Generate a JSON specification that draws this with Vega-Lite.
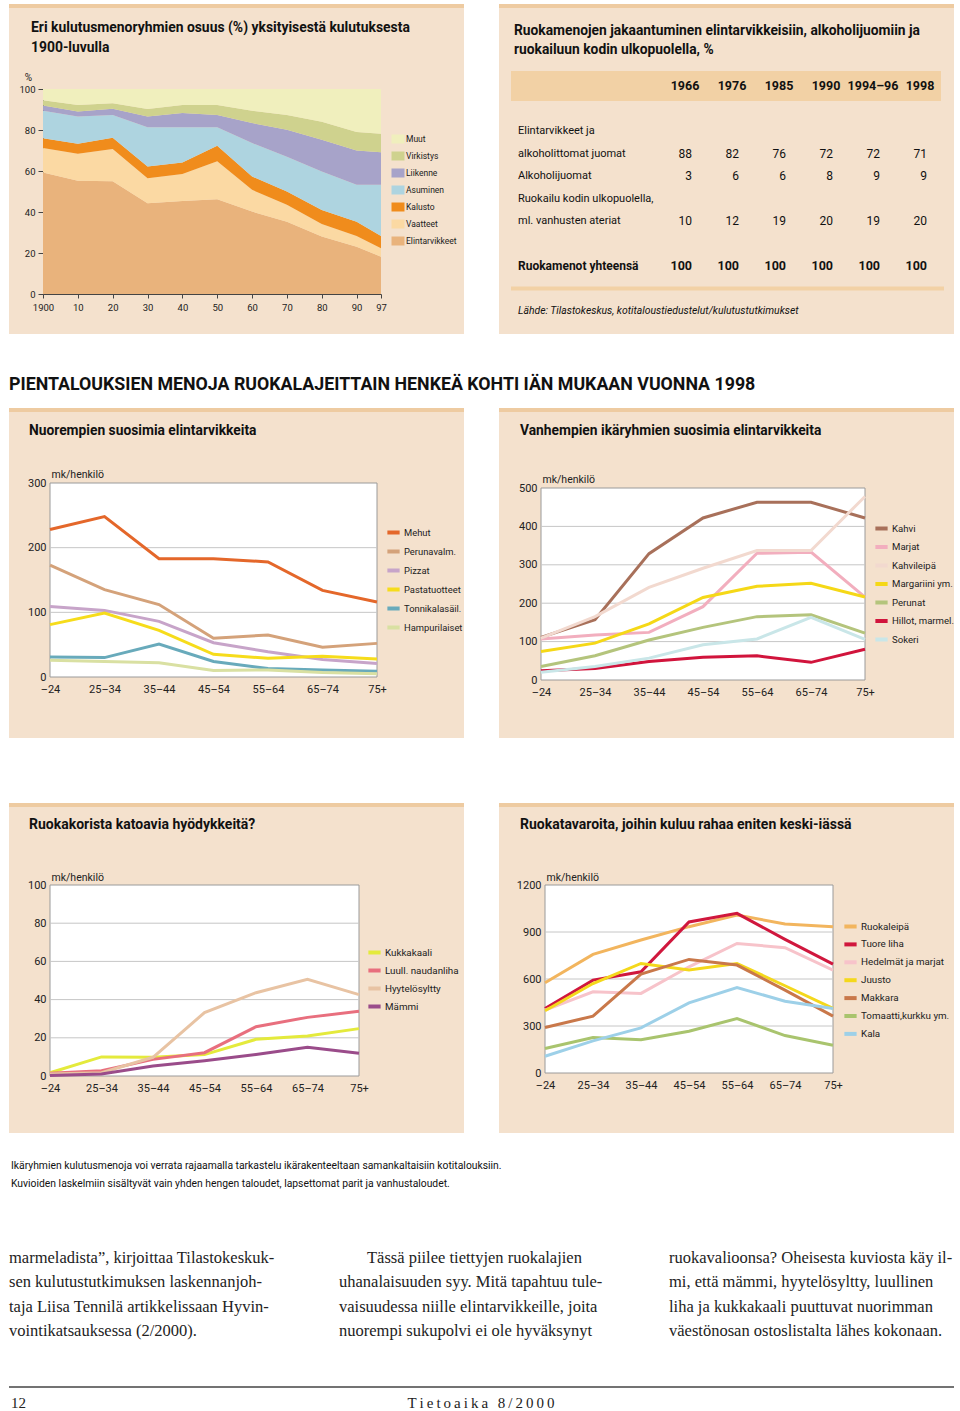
{
"$schema": "https://vega.github.io/schema/vega-lite/v6.json",
"background": "white",
"padding": {"left": 8, "top": 4, "right": 7, "bottom": 0},
"spacing": 0,
"resolve": {"scale": {"color": "independent"}, "legend": {"color": "independent"}},
"config": {
  "view": {"stroke": null},
  "font": "Roboto, 'Liberation Sans', sans-serif",
  "title": {"font": "Roboto, 'Liberation Sans', sans-serif", "fontWeight": "bold", "color": "#111", "anchor": "start", "frame": "group"},
  "axis": {"labelFont": "Roboto, 'Liberation Sans', sans-serif", "titleFont": "Roboto, 'Liberation Sans', sans-serif", "labelColor": "#222", "titleColor": "#222", "titleFontWeight": "normal"},
  "legend": {"labelFont": "Roboto, 'Liberation Sans', sans-serif", "labelColor": "#222", "padding": 0},
  "text": {"font": "Roboto, 'Liberation Sans', sans-serif", "color": "#111"}
},
"datasets": {
  "area": [
    {"v":1900,"r":"Elintarvikkeet","o":1,"p":59.3},{"v":1900,"r":"Vaatteet","o":2,"p":11.9},{"v":1900,"r":"Kalusto","o":3,"p":4.8},{"v":1900,"r":"Asuminen","o":4,"p":13.4},{"v":1900,"r":"Liikenne","o":5,"p":2.5},{"v":1900,"r":"Virkistys","o":6,"p":2.6},{"v":1900,"r":"Muut","o":7,"p":5.5},
    {"v":1910,"r":"Elintarvikkeet","o":1,"p":55.2},{"v":1910,"r":"Vaatteet","o":2,"p":13.2},{"v":1910,"r":"Kalusto","o":3,"p":4.9},{"v":1910,"r":"Asuminen","o":4,"p":13.3},{"v":1910,"r":"Liikenne","o":5,"p":2.4},{"v":1910,"r":"Virkistys","o":6,"p":3.2},{"v":1910,"r":"Muut","o":7,"p":7.8},
    {"v":1920,"r":"Elintarvikkeet","o":1,"p":55.0},{"v":1920,"r":"Vaatteet","o":2,"p":15.7},{"v":1920,"r":"Kalusto","o":3,"p":5.5},{"v":1920,"r":"Asuminen","o":4,"p":11.1},{"v":1920,"r":"Liikenne","o":5,"p":3.1},{"v":1920,"r":"Virkistys","o":6,"p":2.6},{"v":1920,"r":"Muut","o":7,"p":7.0},
    {"v":1930,"r":"Elintarvikkeet","o":1,"p":44.3},{"v":1930,"r":"Vaatteet","o":2,"p":12.2},{"v":1930,"r":"Kalusto","o":3,"p":5.7},{"v":1930,"r":"Asuminen","o":4,"p":19.2},{"v":1930,"r":"Liikenne","o":5,"p":5.2},{"v":1930,"r":"Virkistys","o":6,"p":3.6},{"v":1930,"r":"Muut","o":7,"p":9.8},
    {"v":1940,"r":"Elintarvikkeet","o":1,"p":45.4},{"v":1940,"r":"Vaatteet","o":2,"p":13.1},{"v":1940,"r":"Kalusto","o":3,"p":5.7},{"v":1940,"r":"Asuminen","o":4,"p":17.2},{"v":1940,"r":"Liikenne","o":5,"p":6.9},{"v":1940,"r":"Virkistys","o":6,"p":3.9},{"v":1940,"r":"Muut","o":7,"p":7.8},
    {"v":1950,"r":"Elintarvikkeet","o":1,"p":46.2},{"v":1950,"r":"Vaatteet","o":2,"p":18.5},{"v":1950,"r":"Kalusto","o":3,"p":7.6},{"v":1950,"r":"Asuminen","o":4,"p":9.0},{"v":1950,"r":"Liikenne","o":5,"p":6.0},{"v":1950,"r":"Virkistys","o":6,"p":4.9},{"v":1950,"r":"Muut","o":7,"p":7.8},
    {"v":1960,"r":"Elintarvikkeet","o":1,"p":40.2},{"v":1960,"r":"Vaatteet","o":2,"p":10.6},{"v":1960,"r":"Kalusto","o":3,"p":6.5},{"v":1960,"r":"Asuminen","o":4,"p":16.3},{"v":1960,"r":"Liikenne","o":5,"p":9.8},{"v":1960,"r":"Virkistys","o":6,"p":6.0},{"v":1960,"r":"Muut","o":7,"p":10.6},
    {"v":1970,"r":"Elintarvikkeet","o":1,"p":35.3},{"v":1970,"r":"Vaatteet","o":2,"p":8.2},{"v":1970,"r":"Kalusto","o":3,"p":6.5},{"v":1970,"r":"Asuminen","o":4,"p":17.0},{"v":1970,"r":"Liikenne","o":5,"p":13.1},{"v":1970,"r":"Virkistys","o":6,"p":7.2},{"v":1970,"r":"Muut","o":7,"p":12.7},
    {"v":1980,"r":"Elintarvikkeet","o":1,"p":28.0},{"v":1980,"r":"Vaatteet","o":2,"p":6.2},{"v":1980,"r":"Kalusto","o":3,"p":6.8},{"v":1980,"r":"Asuminen","o":4,"p":18.8},{"v":1980,"r":"Liikenne","o":5,"p":15.4},{"v":1980,"r":"Virkistys","o":6,"p":8.8},{"v":1980,"r":"Muut","o":7,"p":16.0},
    {"v":1990,"r":"Elintarvikkeet","o":1,"p":23.1},{"v":1990,"r":"Vaatteet","o":2,"p":5.2},{"v":1990,"r":"Kalusto","o":3,"p":7.0},{"v":1990,"r":"Asuminen","o":4,"p":18.0},{"v":1990,"r":"Liikenne","o":5,"p":16.7},{"v":1990,"r":"Virkistys","o":6,"p":9.0},{"v":1990,"r":"Muut","o":7,"p":21.0},
    {"v":1997,"r":"Elintarvikkeet","o":1,"p":18.2},{"v":1997,"r":"Vaatteet","o":2,"p":4.1},{"v":1997,"r":"Kalusto","o":3,"p":6.0},{"v":1997,"r":"Asuminen","o":4,"p":25.0},{"v":1997,"r":"Liikenne","o":5,"p":15.9},{"v":1997,"r":"Virkistys","o":6,"p":9.0},{"v":1997,"r":"Muut","o":7,"p":21.8}
  ],
  "vuodet": [{"vuosi":"1966"},{"vuosi":"1976"},{"vuosi":"1985"},{"vuosi":"1990"},{"vuosi":"1994–96"},{"vuosi":"1998"}],
  "rivit": [{"r":"r1","t":"Elintarvikkeet ja"},{"r":"r2","t":"alkoholittomat juomat"},{"r":"r3","t":"Alkoholijuomat"},{"r":"r4","t":"Ruokailu kodin ulkopuolella,"},{"r":"r4b","t":"ml. vanhusten ateriat"}],
  "luvut": [
    {"vuosi":"1966","r":"r2","a":88},{"vuosi":"1976","r":"r2","a":82},{"vuosi":"1985","r":"r2","a":76},{"vuosi":"1990","r":"r2","a":72},{"vuosi":"1994–96","r":"r2","a":72},{"vuosi":"1998","r":"r2","a":71},
    {"vuosi":"1966","r":"r3","a":3},{"vuosi":"1976","r":"r3","a":6},{"vuosi":"1985","r":"r3","a":6},{"vuosi":"1990","r":"r3","a":8},{"vuosi":"1994–96","r":"r3","a":9},{"vuosi":"1998","r":"r3","a":9},
    {"vuosi":"1966","r":"r4b","a":10},{"vuosi":"1976","r":"r4b","a":12},{"vuosi":"1985","r":"r4b","a":19},{"vuosi":"1990","r":"r4b","a":20},{"vuosi":"1994–96","r":"r4b","a":19},{"vuosi":"1998","r":"r4b","a":20}
  ],
  "yhteensa": [{"vuosi":"1966","a":100},{"vuosi":"1976","a":100},{"vuosi":"1985","a":100},{"vuosi":"1990","a":100},{"vuosi":"1994–96","a":100},{"vuosi":"1998","a":100}],
  "nuoret": [
    {"s":"Mehut","ika":"–24","v":228},{"s":"Mehut","ika":"25–34","v":248},{"s":"Mehut","ika":"35–44","v":183},{"s":"Mehut","ika":"45–54","v":183},{"s":"Mehut","ika":"55–64","v":178},{"s":"Mehut","ika":"65–74","v":134},{"s":"Mehut","ika":"75+","v":116},
    {"s":"Perunavalm.","ika":"–24","v":173},{"s":"Perunavalm.","ika":"25–34","v":135},{"s":"Perunavalm.","ika":"35–44","v":112},{"s":"Perunavalm.","ika":"45–54","v":60},{"s":"Perunavalm.","ika":"55–64","v":65},{"s":"Perunavalm.","ika":"65–74","v":46},{"s":"Perunavalm.","ika":"75+","v":52},
    {"s":"Pizzat","ika":"–24","v":109},{"s":"Pizzat","ika":"25–34","v":103},{"s":"Pizzat","ika":"35–44","v":86},{"s":"Pizzat","ika":"45–54","v":53},{"s":"Pizzat","ika":"55–64","v":39},{"s":"Pizzat","ika":"65–74","v":27},{"s":"Pizzat","ika":"75+","v":21},
    {"s":"Pastatuotteet","ika":"–24","v":81},{"s":"Pastatuotteet","ika":"25–34","v":99},{"s":"Pastatuotteet","ika":"35–44","v":72},{"s":"Pastatuotteet","ika":"45–54","v":35},{"s":"Pastatuotteet","ika":"55–64","v":29},{"s":"Pastatuotteet","ika":"65–74","v":32},{"s":"Pastatuotteet","ika":"75+","v":28},
    {"s":"Tonnikalasäil.","ika":"–24","v":31},{"s":"Tonnikalasäil.","ika":"25–34","v":30},{"s":"Tonnikalasäil.","ika":"35–44","v":51},{"s":"Tonnikalasäil.","ika":"45–54","v":24},{"s":"Tonnikalasäil.","ika":"55–64","v":13},{"s":"Tonnikalasäil.","ika":"65–74","v":11},{"s":"Tonnikalasäil.","ika":"75+","v":9},
    {"s":"Hampurilaiset","ika":"–24","v":26},{"s":"Hampurilaiset","ika":"25–34","v":24},{"s":"Hampurilaiset","ika":"35–44","v":22},{"s":"Hampurilaiset","ika":"45–54","v":10},{"s":"Hampurilaiset","ika":"55–64","v":11},{"s":"Hampurilaiset","ika":"65–74","v":7},{"s":"Hampurilaiset","ika":"75+","v":5}
  ],
  "vanhat": [
    {"s":"Kahvi","ika":"–24","v":111},{"s":"Kahvi","ika":"25–34","v":157},{"s":"Kahvi","ika":"35–44","v":329},{"s":"Kahvi","ika":"45–54","v":422},{"s":"Kahvi","ika":"55–64","v":463},{"s":"Kahvi","ika":"65–74","v":463},{"s":"Kahvi","ika":"75+","v":422},
    {"s":"Marjat","ika":"–24","v":107},{"s":"Marjat","ika":"25–34","v":117},{"s":"Marjat","ika":"35–44","v":124},{"s":"Marjat","ika":"45–54","v":191},{"s":"Marjat","ika":"55–64","v":330},{"s":"Marjat","ika":"65–74","v":333},{"s":"Marjat","ika":"75+","v":216},
    {"s":"Kahvileipä","ika":"–24","v":109},{"s":"Kahvileipä","ika":"25–34","v":165},{"s":"Kahvileipä","ika":"35–44","v":241},{"s":"Kahvileipä","ika":"45–54","v":291},{"s":"Kahvileipä","ika":"55–64","v":337},{"s":"Kahvileipä","ika":"65–74","v":337},{"s":"Kahvileipä","ika":"75+","v":478},
    {"s":"Margariini ym.","ika":"–24","v":74},{"s":"Margariini ym.","ika":"25–34","v":96},{"s":"Margariini ym.","ika":"35–44","v":146},{"s":"Margariini ym.","ika":"45–54","v":215},{"s":"Margariini ym.","ika":"55–64","v":244},{"s":"Margariini ym.","ika":"65–74","v":252},{"s":"Margariini ym.","ika":"75+","v":216},
    {"s":"Perunat","ika":"–24","v":35},{"s":"Perunat","ika":"25–34","v":63},{"s":"Perunat","ika":"35–44","v":104},{"s":"Perunat","ika":"45–54","v":137},{"s":"Perunat","ika":"55–64","v":165},{"s":"Perunat","ika":"65–74","v":170},{"s":"Perunat","ika":"75+","v":122},
    {"s":"Hillot, marmel.","ika":"–24","v":24},{"s":"Hillot, marmel.","ika":"25–34","v":30},{"s":"Hillot, marmel.","ika":"35–44","v":48},{"s":"Hillot, marmel.","ika":"45–54","v":59},{"s":"Hillot, marmel.","ika":"55–64","v":63},{"s":"Hillot, marmel.","ika":"65–74","v":46},{"s":"Hillot, marmel.","ika":"75+","v":80},
    {"s":"Sokeri","ika":"–24","v":20},{"s":"Sokeri","ika":"25–34","v":35},{"s":"Sokeri","ika":"35–44","v":57},{"s":"Sokeri","ika":"45–54","v":92},{"s":"Sokeri","ika":"55–64","v":107},{"s":"Sokeri","ika":"65–74","v":163},{"s":"Sokeri","ika":"75+","v":106}
  ],
  "katoavat": [
    {"s":"Kukkakaali","ika":"–24","v":1.7},{"s":"Kukkakaali","ika":"25–34","v":10},{"s":"Kukkakaali","ika":"35–44","v":9.8},{"s":"Kukkakaali","ika":"45–54","v":11.2},{"s":"Kukkakaali","ika":"55–64","v":19.2},{"s":"Kukkakaali","ika":"65–74","v":21},{"s":"Kukkakaali","ika":"75+","v":24.8},
    {"s":"Luull. naudanliha","ika":"–24","v":1.4},{"s":"Luull. naudanliha","ika":"25–34","v":2.8},{"s":"Luull. naudanliha","ika":"35–44","v":8.7},{"s":"Luull. naudanliha","ika":"45–54","v":12.2},{"s":"Luull. naudanliha","ika":"55–64","v":25.8},{"s":"Luull. naudanliha","ika":"65–74","v":30.7},{"s":"Luull. naudanliha","ika":"75+","v":33.9},
    {"s":"Hyytelösyltty","ika":"–24","v":1},{"s":"Hyytelösyltty","ika":"25–34","v":1.7},{"s":"Hyytelösyltty","ika":"35–44","v":9.8},{"s":"Hyytelösyltty","ika":"45–54","v":33.2},{"s":"Hyytelösyltty","ika":"55–64","v":43.6},{"s":"Hyytelösyltty","ika":"65–74","v":50.6},{"s":"Hyytelösyltty","ika":"75+","v":42.6},
    {"s":"Mämmi","ika":"–24","v":0.3},{"s":"Mämmi","ika":"25–34","v":1},{"s":"Mämmi","ika":"35–44","v":5.2},{"s":"Mämmi","ika":"45–54","v":8},{"s":"Mämmi","ika":"55–64","v":11.2},{"s":"Mämmi","ika":"65–74","v":15},{"s":"Mämmi","ika":"75+","v":11.9}
  ],
  "keski": [
    {"s":"Ruokaleipä","ika":"–24","v":576},{"s":"Ruokaleipä","ika":"25–34","v":757},{"s":"Ruokaleipä","ika":"35–44","v":849},{"s":"Ruokaleipä","ika":"45–54","v":934},{"s":"Ruokaleipä","ika":"55–64","v":1009},{"s":"Ruokaleipä","ika":"65–74","v":951},{"s":"Ruokaleipä","ika":"75+","v":934},
    {"s":"Tuore liha","ika":"–24","v":412},{"s":"Tuore liha","ika":"25–34","v":593},{"s":"Tuore liha","ika":"35–44","v":646},{"s":"Tuore liha","ika":"45–54","v":964},{"s":"Tuore liha","ika":"55–64","v":1019},{"s":"Tuore liha","ika":"65–74","v":853},{"s":"Tuore liha","ika":"75+","v":695},
    {"s":"Hedelmät ja marjat","ika":"–24","v":401},{"s":"Hedelmät ja marjat","ika":"25–34","v":518},{"s":"Hedelmät ja marjat","ika":"35–44","v":508},{"s":"Hedelmät ja marjat","ika":"45–54","v":678},{"s":"Hedelmät ja marjat","ika":"55–64","v":827},{"s":"Hedelmät ja marjat","ika":"65–74","v":800},{"s":"Hedelmät ja marjat","ika":"75+","v":657},
    {"s":"Juusto","ika":"–24","v":397},{"s":"Juusto","ika":"25–34","v":571},{"s":"Juusto","ika":"35–44","v":699},{"s":"Juusto","ika":"45–54","v":657},{"s":"Juusto","ika":"55–64","v":699},{"s":"Juusto","ika":"65–74","v":557},{"s":"Juusto","ika":"75+","v":412},
    {"s":"Makkara","ika":"–24","v":290},{"s":"Makkara","ika":"25–34","v":363},{"s":"Makkara","ika":"35–44","v":631},{"s":"Makkara","ika":"45–54","v":725},{"s":"Makkara","ika":"55–64","v":689},{"s":"Makkara","ika":"65–74","v":529},{"s":"Makkara","ika":"75+","v":363},
    {"s":"Tomaatti,kurkku ym.","ika":"–24","v":156},{"s":"Tomaatti,kurkku ym.","ika":"25–34","v":226},{"s":"Tomaatti,kurkku ym.","ika":"35–44","v":213},{"s":"Tomaatti,kurkku ym.","ika":"45–54","v":267},{"s":"Tomaatti,kurkku ym.","ika":"55–64","v":348},{"s":"Tomaatti,kurkku ym.","ika":"65–74","v":239},{"s":"Tomaatti,kurkku ym.","ika":"75+","v":177},
    {"s":"Kala","ika":"–24","v":107},{"s":"Kala","ika":"25–34","v":205},{"s":"Kala","ika":"35–44","v":288},{"s":"Kala","ika":"45–54","v":448},{"s":"Kala","ika":"55–64","v":546},{"s":"Kala","ika":"65–74","v":458},{"s":"Kala","ika":"75+","v":412}
  ],
  "alaviite": [
    {"n":1,"t":"Ikäryhmien kulutusmenoja voi verrata rajaamalla tarkastelu ikärakenteeltaan samankaltaisiin kotitalouksiin."},
    {"n":2,"t":"Kuvioiden laskelmiin sisältyvät vain yhden hengen taloudet, lapsettomat parit ja vanhustaloudet."}
  ],
  "leipateksti": [
    {"p":1,"n":1,"t":"marmeladista”, kirjoittaa Tilastokeskuk-"},
    {"p":1,"n":2,"t":"sen kulutustutkimuksen laskennanjoh-"},
    {"p":1,"n":3,"t":"taja Liisa Tennilä artikkelissaan Hyvin-"},
    {"p":1,"n":4,"t":"vointikatsauksessa (2/2000)."},
    {"p":2,"n":2,"t":"uhanalaisuuden syy. Mitä tapahtuu tule-"},
    {"p":2,"n":3,"t":"vaisuudessa niille elintarvikkeille, joita"},
    {"p":2,"n":4,"t":"nuorempi sukupolvi ei ole hyväksynyt"},
    {"p":3,"n":1,"t":"ruokavalioonsa? Oheisesta kuviosta käy il-"},
    {"p":3,"n":2,"t":"mi, että mämmi, hyytelösyltty, luullinen"},
    {"p":3,"n":3,"t":"liha ja kukkakaali puuttuvat nuorimman"},
    {"p":3,"n":4,"t":"väestönosan ostoslistalta lähes kokonaan."}
  ],
  "sisennys": [
    {"p":2,"n":1,"t":"Tässä piilee tiettyjen ruokalajien"}
  ]
},
"vconcat": [
  {
    "spacing": 35,
    "bounds": "flush",
    "resolve": {"scale": {"color": "independent"}, "legend": {"color": "independent"}},
    "hconcat": [
      {
        "width": 455, "height": 330,
        "view": {"stroke": null, "fill": {"gradient": "linear", "x1": 0, "y1": 0, "x2": 0, "y2": 1, "stops": [{"offset": 0, "color": "#eecba1"}, {"offset": 0.0125, "color": "#eecba1"}, {"offset": 0.0135, "color": "#f4e1cd"}, {"offset": 1, "color": "#f4e1cd"}]}},
        "title": {"text": ["Eri kulutusmenoryhmien osuus (%) yksityisestä kulutuksesta", "1900-luvulla"], "dx": 22, "offset": -51, "fontSize": 13.9, "lineHeight": 20},
        "data": {"name": "area"},
        "mark": {"type": "area"},
        "encoding": {
          "x": {"field": "v", "type": "quantitative", "scale": {"domain": [1900, 1997], "range": [34, 372], "nice": false, "zero": false},
                "axis": {"orient": "bottom", "offset": -40, "values": [1900,1910,1920,1930,1940,1950,1960,1970,1980,1990,1997], "labelExpr": "datum.value == 1900 ? '1900' : format(datum.value - 1900, 'd')", "title": null, "grid": false, "domainColor": "#444", "tickColor": "#444", "tickSize": 4, "labelFontSize": 9.5, "labelPadding": 4, "labelFlush": false}},
          "y": {"field": "p", "type": "quantitative", "stack": "zero", "scale": {"domain": [0, 100], "range": [290, 85], "nice": false},
                "axis": {"orient": "left", "offset": -34, "values": [0,20,40,60,80,100], "title": "%", "titleAngle": 0, "titleX": -15, "titleY": 76, "titleAlign": "center", "titleBaseline": "alphabetic", "titleFontSize": 10, "grid": false, "domainColor": "#444", "tickColor": "#444", "tickSize": 5, "labelFontSize": 9.5, "labelPadding": 3}},
          "color": {"field": "r", "type": "nominal",
                    "scale": {"domain": ["Muut","Virkistys","Liikenne","Asuminen","Kalusto","Vaatteet","Elintarvikkeet"], "range": ["#f0efbd","#cfd28e","#a7a3c9","#aed4e0","#f08c1c","#fbd9a3","#e9b37c"]},
                    "legend": {"orient": "none", "legendX": 384, "legendY": 130, "title": null, "symbolType": "M-1.3,-0.9H1.3V0.9H-1.3Z", "symbolSize": 100, "symbolStrokeWidth": 0, "labelFontSize": 8.5, "rowPadding": 7, "labelOffset": 3}},
          "order": {"field": "o", "type": "quantitative"}
        }
      },
      {
        "width": 455, "height": 330,
        "view": {"stroke": null, "fill": {"gradient": "linear", "x1": 0, "y1": 0, "x2": 0, "y2": 1, "stops": [{"offset": 0, "color": "#eecba1"}, {"offset": 0.0125, "color": "#eecba1"}, {"offset": 0.0135, "color": "#f4e1cd"}, {"offset": 1, "color": "#f4e1cd"}]}},
        "title": {"text": ["Ruokamenojen jakaantuminen elintarvikkeisiin, alkoholijuomiin  ja", "ruokailuun kodin ulkopuolella, %"], "dx": 15, "offset": -53, "fontSize": 13.8, "lineHeight": 19},
        "resolve": {"scale": {"x": "independent"}},
        "layer": [
          {"data": {"values": [{}]}, "mark": {"type": "rule", "color": "#f2d1a5", "strokeWidth": 30},
           "encoding": {"x": {"datum": 0, "type": "quantitative", "scale": {"domain": [0, 1], "range": [12, 442]}, "axis": null}, "x2": {"datum": 1},
                        "y": {"datum": "hdr", "type": "nominal", "scale": {"type": "point", "domain": ["hdr","_a","r1","r2","r3","r4","r4b","_b","tot","line","src"], "range": [82, 307], "padding": 0}, "axis": null}}},
          {"data": {"values": [{}]}, "mark": {"type": "rule", "color": "#f2d1a5", "strokeWidth": 4},
           "encoding": {"x": {"datum": 0, "type": "quantitative", "scale": {"domain": [0, 1], "range": [12, 445]}, "axis": null}, "x2": {"datum": 1},
                        "y": {"datum": "line", "type": "nominal", "axis": null}}},
          {"data": {"name": "vuodet"}, "mark": {"type": "text", "fontWeight": "bold", "fontSize": 12.5, "align": "center", "baseline": "middle"},
           "encoding": {"x": {"field": "vuosi", "type": "nominal", "scale": {"type": "point", "domain": ["1966","1976","1985","1990","1994–96","1998"], "range": [186, 421], "padding": 0}, "axis": null},
                        "y": {"datum": "hdr", "type": "nominal", "axis": null}, "text": {"field": "vuosi"}}},
          {"data": {"name": "rivit"}, "mark": {"type": "text", "fontSize": 11, "align": "left", "baseline": "middle"},
           "encoding": {"x": {"datum": "L", "type": "nominal", "scale": {"type": "point", "domain": ["L"], "range": [19, 19]}, "axis": null},
                        "y": {"field": "r", "type": "nominal", "axis": null}, "text": {"field": "t"}}},
          {"data": {"values": [{"t": "Ruokamenot yhteensä"}]}, "mark": {"type": "text", "fontSize": 12, "fontWeight": "bold", "align": "left", "baseline": "middle"},
           "encoding": {"x": {"datum": "L", "type": "nominal", "scale": {"type": "point", "domain": ["L"], "range": [19, 19]}, "axis": null},
                        "y": {"datum": "tot", "type": "nominal", "axis": null}, "text": {"field": "t"}}},
          {"data": {"name": "luvut"}, "mark": {"type": "text", "fontSize": 12, "align": "right", "baseline": "middle", "dx": 7},
           "encoding": {"x": {"field": "vuosi", "type": "nominal", "scale": {"type": "point", "domain": ["1966","1976","1985","1990","1994–96","1998"], "range": [186, 421], "padding": 0}, "axis": null},
                        "y": {"field": "r", "type": "nominal", "axis": null}, "text": {"field": "a"}}},
          {"data": {"name": "yhteensa"}, "mark": {"type": "text", "fontSize": 12.5, "fontWeight": "bold", "align": "right", "baseline": "middle", "dx": 7},
           "encoding": {"x": {"field": "vuosi", "type": "nominal", "scale": {"type": "point", "domain": ["1966","1976","1985","1990","1994–96","1998"], "range": [186, 421], "padding": 0}, "axis": null},
                        "y": {"datum": "tot", "type": "nominal", "axis": null}, "text": {"field": "a"}}},
          {"data": {"values": [{"t": "Lähde: Tilastokeskus, kotitaloustiedustelut/kulutustutkimukset"}]}, "mark": {"type": "text", "fontSize": 10.4, "fontStyle": "italic", "align": "left", "baseline": "middle"},
           "encoding": {"x": {"datum": "L", "type": "nominal", "scale": {"type": "point", "domain": ["L"], "range": [19, 19]}, "axis": null},
                        "y": {"datum": "src", "type": "nominal", "axis": null}, "text": {"field": "t"}}}
        ]
      }
    ]
  },
  {
    "width": 945, "height": 74,
    "title": {"text": "PIENTALOUKSIEN MENOJA RUOKALAJEITTAIN HENKEÄ KOHTI IÄN MUKAAN VUONNA 1998", "dx": 0, "offset": -60, "fontSize": 17.8},
    "data": {"values": [{}]},
    "mark": {"type": "text"},
    "encoding": {"text": {"value": ""}}
  },
  {
    "spacing": 35,
    "bounds": "flush",
    "resolve": {"scale": {"color": "independent"}, "legend": {"color": "independent"}},
    "hconcat": [
      {
        "width": 455, "height": 330,
        "view": {"stroke": null, "fill": {"gradient": "linear", "x1": 0, "y1": 0, "x2": 0, "y2": 1, "stops": [{"offset": 0, "color": "#eecba1"}, {"offset": 0.0125, "color": "#eecba1"}, {"offset": 0.0135, "color": "#f4e1cd"}, {"offset": 1, "color": "#f4e1cd"}]}},
        "title": {"text": "Nuorempien suosimia elintarvikkeita", "dx": 20, "offset": -30, "fontSize": 13.8},
        "layer": [
          {"data": {"values": [{}]}, "mark": {"type": "rect", "fill": "white", "stroke": "#9a9a9a", "strokeWidth": 1},
           "encoding": {
             "x": {"datum": "–24", "type": "ordinal", "axis": {"orient": "bottom", "offset": -61, "title": null, "domain": false, "ticks": false, "grid": false, "labelPadding": 6, "labelFontSize": 11, "labelAngle": 0}},
             "x2": {"datum": "75+"},
             "y": {"datum": 0, "type": "quantitative", "axis": {"orient": "left", "offset": -41, "values": [0,100,200,300], "grid": false, "domain": false, "ticks": false, "labelPadding": 4, "labelFontSize": 11, "title": "mk/henkilö", "titleAngle": 0, "titleAlign": "left", "titleBaseline": "alphabetic", "titleX": 1, "titleY": 69, "titleFontSize": 10.5}},
             "y2": {"datum": 300}}},
          {"data": {"values": [{"g": 100}, {"g": 200}]}, "mark": {"type": "rule", "color": "#c6c6c6", "strokeWidth": 1},
           "encoding": {
             "x": {"datum": "–24", "type": "ordinal", "axis": {"orient": "bottom", "offset": -61, "title": null, "domain": false, "ticks": false, "grid": false, "labelPadding": 6, "labelFontSize": 11, "labelAngle": 0}},
             "x2": {"datum": "75+"},
             "y": {"field": "g", "type": "quantitative", "axis": {"orient": "left", "offset": -41, "values": [0,100,200,300], "grid": false, "domain": false, "ticks": false, "labelPadding": 4, "labelFontSize": 11, "title": "mk/henkilö", "titleAngle": 0, "titleAlign": "left", "titleBaseline": "alphabetic", "titleX": 1, "titleY": 69, "titleFontSize": 10.5}}}},
          {"data": {"name": "nuoret"}, "mark": {"type": "line", "strokeWidth": 3},
           "encoding": {
             "x": {"field": "ika", "type": "ordinal", "scale": {"type": "point", "domain": ["–24","25–34","35–44","45–54","55–64","65–74","75+"], "range": [41, 368], "padding": 0},
                   "axis": {"orient": "bottom", "offset": -61, "title": null, "domain": false, "ticks": false, "grid": false, "labelPadding": 6, "labelFontSize": 11, "labelAngle": 0}},
             "y": {"field": "v", "type": "quantitative", "scale": {"domain": [0, 300], "range": [269, 75], "nice": false},
                   "axis": {"orient": "left", "offset": -41, "values": [0,100,200,300], "grid": false, "domain": false, "ticks": false, "labelPadding": 4, "labelFontSize": 11, "title": "mk/henkilö", "titleAngle": 0, "titleAlign": "left", "titleBaseline": "alphabetic", "titleX": 1, "titleY": 69, "titleFontSize": 10.5}},
             "color": {"field": "s", "type": "nominal", "scale": {"domain": ["Mehut","Perunavalm.","Pizzat","Pastatuotteet","Tonnikalasäil.","Hampurilaiset"], "range": ["#e4672a","#d4a27a","#c7a4c9","#f6dc1b","#68aabb","#d9e0a2"]},
                       "legend": {"orient": "none", "legendX": 376, "legendY": 116, "title": null, "symbolType": "stroke", "symbolStrokeWidth": 4, "symbolSize": 150, "labelFontSize": 9.4, "rowPadding": 2, "labelOffset": 2}}
           }}
        ]
      },
      {
        "width": 455, "height": 330,
        "view": {"stroke": null, "fill": {"gradient": "linear", "x1": 0, "y1": 0, "x2": 0, "y2": 1, "stops": [{"offset": 0, "color": "#eecba1"}, {"offset": 0.0125, "color": "#eecba1"}, {"offset": 0.0135, "color": "#f4e1cd"}, {"offset": 1, "color": "#f4e1cd"}]}},
        "title": {"text": "Vanhempien ikäryhmien suosimia elintarvikkeita", "dx": 21, "offset": -30, "fontSize": 13.8},
        "layer": [
          {"data": {"values": [{}]}, "mark": {"type": "rect", "fill": "white", "stroke": "#9a9a9a", "strokeWidth": 1},
           "encoding": {
             "x": {"datum": "–24", "type": "ordinal", "axis": {"orient": "bottom", "offset": -58, "title": null, "domain": false, "ticks": false, "grid": false, "labelPadding": 6, "labelFontSize": 11, "labelAngle": 0}},
             "x2": {"datum": "75+"},
             "y": {"datum": 0, "type": "quantitative", "axis": {"orient": "left", "offset": -42, "values": [0,100,200,300,400,500], "grid": false, "domain": false, "ticks": false, "labelPadding": 4, "labelFontSize": 11, "title": "mk/henkilö", "titleAngle": 0, "titleAlign": "left", "titleBaseline": "alphabetic", "titleX": 1, "titleY": 74, "titleFontSize": 10.5}},
             "y2": {"datum": 500}}},
          {"data": {"values": [{"g": 100}, {"g": 200}, {"g": 300}, {"g": 400}]}, "mark": {"type": "rule", "color": "#c6c6c6", "strokeWidth": 1},
           "encoding": {
             "x": {"datum": "–24", "type": "ordinal", "axis": {"orient": "bottom", "offset": -58, "title": null, "domain": false, "ticks": false, "grid": false, "labelPadding": 6, "labelFontSize": 11, "labelAngle": 0}},
             "x2": {"datum": "75+"},
             "y": {"field": "g", "type": "quantitative", "axis": {"orient": "left", "offset": -42, "values": [0,100,200,300,400,500], "grid": false, "domain": false, "ticks": false, "labelPadding": 4, "labelFontSize": 11, "title": "mk/henkilö", "titleAngle": 0, "titleAlign": "left", "titleBaseline": "alphabetic", "titleX": 1, "titleY": 74, "titleFontSize": 10.5}}}},
          {"data": {"name": "vanhat"}, "mark": {"type": "line", "strokeWidth": 3},
           "encoding": {
             "x": {"field": "ika", "type": "ordinal", "scale": {"type": "point", "domain": ["–24","25–34","35–44","45–54","55–64","65–74","75+"], "range": [42, 366], "padding": 0},
                   "axis": {"orient": "bottom", "offset": -58, "title": null, "domain": false, "ticks": false, "grid": false, "labelPadding": 6, "labelFontSize": 11, "labelAngle": 0}},
             "y": {"field": "v", "type": "quantitative", "scale": {"domain": [0, 500], "range": [272, 80], "nice": false},
                   "axis": {"orient": "left", "offset": -42, "values": [0,100,200,300,400,500], "grid": false, "domain": false, "ticks": false, "labelPadding": 4, "labelFontSize": 11, "title": "mk/henkilö", "titleAngle": 0, "titleAlign": "left", "titleBaseline": "alphabetic", "titleX": 1, "titleY": 74, "titleFontSize": 10.5}},
             "color": {"field": "s", "type": "nominal", "scale": {"domain": ["Kahvi","Marjat","Kahvileipä","Margariini ym.","Perunat","Hillot, marmel.","Sokeri"], "range": ["#a8705a","#f2aebe","#f2d9cf","#f5d817","#b4c47c","#d1143c","#c9e6e8"]},
                       "legend": {"orient": "none", "legendX": 374, "legendY": 112, "title": null, "symbolType": "stroke", "symbolStrokeWidth": 4, "symbolSize": 150, "labelFontSize": 9.6, "rowPadding": 1.5, "labelOffset": 2}}
           }}
        ]
      }
    ]
  },
  {
    "width": 945, "height": 65,
    "data": {"values": [{}]},
    "mark": {"type": "text"},
    "encoding": {"text": {"value": ""}}
  },
  {
    "spacing": 35,
    "bounds": "flush",
    "resolve": {"scale": {"color": "independent"}, "legend": {"color": "independent"}},
    "hconcat": [
      {
        "width": 455, "height": 330,
        "view": {"stroke": null, "fill": {"gradient": "linear", "x1": 0, "y1": 0, "x2": 0, "y2": 1, "stops": [{"offset": 0, "color": "#eecba1"}, {"offset": 0.0125, "color": "#eecba1"}, {"offset": 0.0135, "color": "#f4e1cd"}, {"offset": 1, "color": "#f4e1cd"}]}},
        "title": {"text": "Ruokakorista katoavia hyödykkeitä?", "dx": 20, "offset": -29, "fontSize": 14},
        "layer": [
          {"data": {"values": [{}]}, "mark": {"type": "rect", "fill": "white", "stroke": "#9a9a9a", "strokeWidth": 1},
           "encoding": {
             "x": {"datum": "–24", "type": "ordinal", "axis": {"orient": "bottom", "offset": -57, "title": null, "domain": false, "ticks": false, "grid": false, "labelPadding": 6, "labelFontSize": 11, "labelAngle": 0}},
             "x2": {"datum": "75+"},
             "y": {"datum": 0, "type": "quantitative", "axis": {"orient": "left", "offset": -41, "values": [0,20,40,60,80,100], "grid": false, "domain": false, "ticks": false, "labelPadding": 4, "labelFontSize": 11, "title": "mk/henkilö", "titleAngle": 0, "titleAlign": "left", "titleBaseline": "alphabetic", "titleX": 1, "titleY": 77, "titleFontSize": 10.5}},
             "y2": {"datum": 100}}},
          {"data": {"values": [{"g": 20}, {"g": 40}, {"g": 60}, {"g": 80}]}, "mark": {"type": "rule", "color": "#c6c6c6", "strokeWidth": 1},
           "encoding": {
             "x": {"datum": "–24", "type": "ordinal", "axis": {"orient": "bottom", "offset": -57, "title": null, "domain": false, "ticks": false, "grid": false, "labelPadding": 6, "labelFontSize": 11, "labelAngle": 0}},
             "x2": {"datum": "75+"},
             "y": {"field": "g", "type": "quantitative", "axis": {"orient": "left", "offset": -41, "values": [0,20,40,60,80,100], "grid": false, "domain": false, "ticks": false, "labelPadding": 4, "labelFontSize": 11, "title": "mk/henkilö", "titleAngle": 0, "titleAlign": "left", "titleBaseline": "alphabetic", "titleX": 1, "titleY": 77, "titleFontSize": 10.5}}}},
          {"data": {"name": "katoavat"}, "mark": {"type": "line", "strokeWidth": 3},
           "encoding": {
             "x": {"field": "ika", "type": "ordinal", "scale": {"type": "point", "domain": ["–24","25–34","35–44","45–54","55–64","65–74","75+"], "range": [41, 350], "padding": 0},
                   "axis": {"orient": "bottom", "offset": -57, "title": null, "domain": false, "ticks": false, "grid": false, "labelPadding": 6, "labelFontSize": 11, "labelAngle": 0}},
             "y": {"field": "v", "type": "quantitative", "scale": {"domain": [0, 100], "range": [273, 82], "nice": false},
                   "axis": {"orient": "left", "offset": -41, "values": [0,20,40,60,80,100], "grid": false, "domain": false, "ticks": false, "labelPadding": 4, "labelFontSize": 11, "title": "mk/henkilö", "titleAngle": 0, "titleAlign": "left", "titleBaseline": "alphabetic", "titleX": 1, "titleY": 77, "titleFontSize": 10.5}},
             "color": {"field": "s", "type": "nominal", "scale": {"domain": ["Kukkakaali","Luull. naudanliha","Hyytelösyltty","Mämmi"], "range": ["#e4ea3c","#e86f7e","#e8c3a3","#9a4c8a"]},
                       "legend": {"orient": "none", "legendX": 357, "legendY": 141, "title": null, "symbolType": "stroke", "symbolStrokeWidth": 4, "symbolSize": 150, "labelFontSize": 9.8, "rowPadding": 1, "labelOffset": 2}}
           }}
        ]
      },
      {
        "width": 455, "height": 330,
        "view": {"stroke": null, "fill": {"gradient": "linear", "x1": 0, "y1": 0, "x2": 0, "y2": 1, "stops": [{"offset": 0, "color": "#eecba1"}, {"offset": 0.0125, "color": "#eecba1"}, {"offset": 0.0135, "color": "#f4e1cd"}, {"offset": 1, "color": "#f4e1cd"}]}},
        "title": {"text": "Ruokatavaroita, joihin kuluu rahaa eniten keski-iässä", "dx": 21, "offset": -29, "fontSize": 14},
        "layer": [
          {"data": {"values": [{}]}, "mark": {"type": "rect", "fill": "white", "stroke": "#9a9a9a", "strokeWidth": 1},
           "encoding": {
             "x": {"datum": "–24", "type": "ordinal", "axis": {"orient": "bottom", "offset": -60, "title": null, "domain": false, "ticks": false, "grid": false, "labelPadding": 6, "labelFontSize": 11, "labelAngle": 0}},
             "x2": {"datum": "75+"},
             "y": {"datum": 0, "type": "quantitative", "axis": {"orient": "left", "offset": -46, "values": [0,300,600,900,1200], "format": "d", "grid": false, "domain": false, "ticks": false, "labelPadding": 4, "labelFontSize": 11, "title": "mk/henkilö", "titleAngle": 0, "titleAlign": "left", "titleBaseline": "alphabetic", "titleX": 1, "titleY": 77, "titleFontSize": 10.5}},
             "y2": {"datum": 1200}}},
          {"data": {"values": [{"g": 300}, {"g": 600}, {"g": 900}]}, "mark": {"type": "rule", "color": "#c6c6c6", "strokeWidth": 1},
           "encoding": {
             "x": {"datum": "–24", "type": "ordinal", "axis": {"orient": "bottom", "offset": -60, "title": null, "domain": false, "ticks": false, "grid": false, "labelPadding": 6, "labelFontSize": 11, "labelAngle": 0}},
             "x2": {"datum": "75+"},
             "y": {"field": "g", "type": "quantitative", "axis": {"orient": "left", "offset": -46, "values": [0,300,600,900,1200], "format": "d", "grid": false, "domain": false, "ticks": false, "labelPadding": 4, "labelFontSize": 11, "title": "mk/henkilö", "titleAngle": 0, "titleAlign": "left", "titleBaseline": "alphabetic", "titleX": 1, "titleY": 77, "titleFontSize": 10.5}}}},
          {"data": {"name": "keski"}, "mark": {"type": "line", "strokeWidth": 3},
           "encoding": {
             "x": {"field": "ika", "type": "ordinal", "scale": {"type": "point", "domain": ["–24","25–34","35–44","45–54","55–64","65–74","75+"], "range": [46, 334], "padding": 0},
                   "axis": {"orient": "bottom", "offset": -60, "title": null, "domain": false, "ticks": false, "grid": false, "labelPadding": 6, "labelFontSize": 11, "labelAngle": 0}},
             "y": {"field": "v", "type": "quantitative", "scale": {"domain": [0, 1200], "range": [270, 82], "nice": false},
                   "axis": {"orient": "left", "offset": -46, "values": [0,300,600,900,1200], "format": "d", "grid": false, "domain": false, "ticks": false, "labelPadding": 4, "labelFontSize": 11, "title": "mk/henkilö", "titleAngle": 0, "titleAlign": "left", "titleBaseline": "alphabetic", "titleX": 1, "titleY": 77, "titleFontSize": 10.5}},
             "color": {"field": "s", "type": "nominal", "scale": {"domain": ["Ruokaleipä","Tuore liha","Hedelmät ja marjat","Juusto","Makkara","Tomaatti,kurkku ym.","Kala"], "range": ["#f2b55e","#d0173d","#f7c3ca","#f4d81c","#c9784a","#a9c46e","#9dd0e8"]},
                       "legend": {"orient": "none", "legendX": 343, "legendY": 115, "title": null, "symbolType": "stroke", "symbolStrokeWidth": 4, "symbolSize": 150, "labelFontSize": 9.8, "rowPadding": 0.9, "labelOffset": 2}}
           }}
        ]
      }
    ]
  },
  {
    "width": 945, "height": 278,
    "resolve": {"scale": {"x": "independent", "y": "independent"}},
    "layer": [
      {"data": {"name": "alaviite"}, "mark": {"type": "text", "fontSize": 10.35, "align": "left", "baseline": "middle"},
       "encoding": {"x": {"datum": "a", "type": "nominal", "scale": {"type": "point", "domain": ["a"], "range": [2, 2]}, "axis": null},
                    "y": {"field": "n", "type": "ordinal", "scale": {"type": "point", "domain": [1, 2], "range": [33, 51], "padding": 0}, "axis": null},
                    "text": {"field": "t"}}},
      {"data": {"name": "leipateksti"}, "mark": {"type": "text", "fontSize": 16.5, "font": "'Liberation Serif', 'DejaVu Serif', serif", "align": "left", "baseline": "middle", "color": "#222"},
       "encoding": {"x": {"field": "p", "type": "ordinal", "scale": {"type": "point", "domain": [1, 2, 3], "range": [0, 660], "padding": 0}, "axis": null},
                    "y": {"field": "n", "type": "ordinal", "scale": {"type": "point", "domain": [1, 2, 3, 4], "range": [125, 198], "padding": 0}, "axis": null},
                    "text": {"field": "t"}}},
      {"data": {"name": "sisennys"}, "mark": {"type": "text", "fontSize": 16.5, "font": "'Liberation Serif', 'DejaVu Serif', serif", "align": "left", "baseline": "middle", "color": "#222", "dx": 28},
       "encoding": {"x": {"field": "p", "type": "ordinal", "scale": {"type": "point", "domain": [1, 2, 3], "range": [0, 660], "padding": 0}, "axis": null},
                    "y": {"field": "n", "type": "ordinal", "scale": {"type": "point", "domain": [1, 2, 3, 4], "range": [125, 198], "padding": 0}, "axis": null},
                    "text": {"field": "t"}}},
      {"data": {"values": [{}]}, "mark": {"type": "rule", "color": "#444", "strokeWidth": 1.5},
       "encoding": {"y": {"datum": "r", "type": "nominal", "scale": {"type": "point", "domain": ["r"], "range": [254, 254]}, "axis": null}}},
      {"data": {"values": [{"t": "12"}]}, "mark": {"type": "text", "fontSize": 15, "font": "'Liberation Serif', 'DejaVu Serif', serif", "align": "left", "baseline": "middle", "color": "#222"},
       "encoding": {"x": {"datum": "a", "type": "nominal", "scale": {"type": "point", "domain": ["a"], "range": [2, 2]}, "axis": null},
                    "y": {"datum": "f", "type": "nominal", "scale": {"type": "point", "domain": ["f"], "range": [270, 270]}, "axis": null},
                    "text": {"field": "t"}}},
      {"data": {"values": [{"t": "T\u2009i\u2009e\u2009t\u2009o\u2009a\u2009i\u2009k\u2009a\u2009\u00a0\u20098\u2009/\u20092\u20090\u20090\u20090"}]}, "mark": {"type": "text", "fontSize": 15, "font": "'Liberation Serif', 'DejaVu Serif', serif", "align": "center", "baseline": "middle", "color": "#222"},
       "encoding": {"x": {"datum": "c", "type": "nominal", "scale": {"type": "point", "domain": ["c"], "range": [472, 472]}, "axis": null},
                    "y": {"datum": "f", "type": "nominal", "scale": {"type": "point", "domain": ["f"], "range": [270, 270]}, "axis": null},
                    "text": {"field": "t"}}}
    ]
  }
]
}
